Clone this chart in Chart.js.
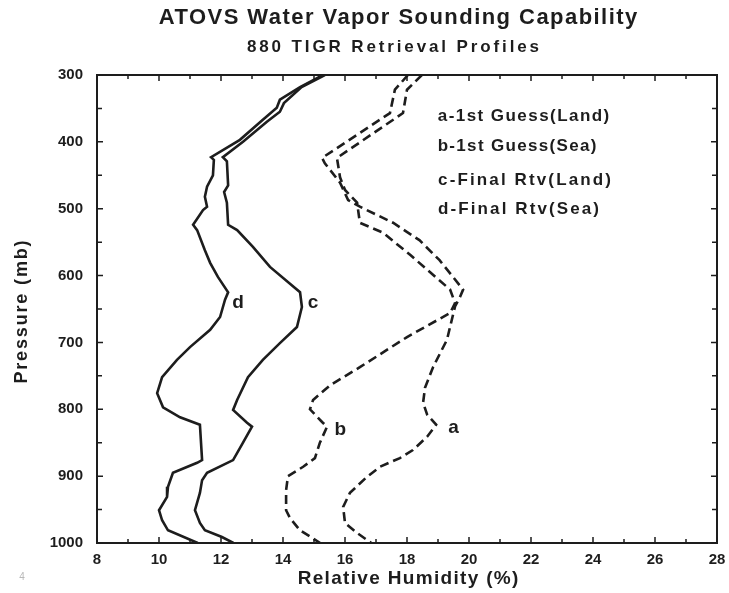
<!DOCTYPE html>
<html>
<head>
<meta charset="utf-8">
<script src="https://cdn.jsdelivr.net/npm/chart.js@4.4.1/dist/chart.umd.min.js"></script>
<style>
  html, body { margin: 0; padding: 0; background: #fff; }
  #wrap { width: 729px; height: 593px; }
</style>
</head>
<body>
<div id="wrap"><canvas id="rhChart" width="729" height="593"></canvas></div>
<script>
// Profiles: pressure (mb) and relative humidity (%)
const aPressure = [300, 322, 357, 424, 432, 461, 487, 497, 521, 547, 577, 621, 632, 646, 696, 737, 768, 790, 808, 823, 841, 861, 873, 886, 901, 925, 946, 970, 985, 1000];
const aHumidity = [18.03, 17.61, 17.45, 15.26, 15.35, 15.84, 16.1, 16.48, 17.55, 18.4, 19.05, 19.81, 19.71, 19.55, 19.29, 18.84, 18.58, 18.52, 18.65, 18.94, 18.65, 18.19, 17.77, 17.13, 16.71, 16.16, 15.94, 16.0, 16.39, 16.85];

const bPressure = [300, 322, 357, 424, 453, 472, 491, 521, 536, 569, 621, 641, 656, 692, 737, 764, 786, 800, 819, 826, 850, 873, 886, 900, 921, 951, 963, 981, 1000];
const bHumidity = [18.48, 18.0, 17.87, 15.74, 15.84, 16.0, 16.39, 16.48, 17.23, 18.1, 19.39, 19.55, 19.39, 18.0, 16.48, 15.52, 14.97, 14.87, 15.26, 15.42, 15.19, 15.03, 14.65, 14.16, 14.1, 14.1, 14.23, 14.55, 15.2];

const cPressure = [300, 318, 342, 355, 370, 400, 423, 429, 465, 475, 491, 524, 532, 557, 587, 625, 647, 677, 701, 726, 752, 786, 801, 820, 826, 850, 876, 895, 906, 925, 951, 970, 981, 991, 1000];
const cHumidity = [15.35, 14.6, 14.03, 13.9, 13.48, 12.71, 12.06, 12.19, 12.23, 12.1, 12.19, 12.23, 12.52, 13.03, 13.58, 14.55, 14.61, 14.45, 13.9, 13.35, 12.87, 12.52, 12.39, 12.84, 13.0, 12.71, 12.39, 11.55, 11.39, 11.32, 11.16, 11.32, 11.48, 12.03, 12.4];

const dPressure = [300, 318, 337, 349, 367, 397, 423, 427, 450, 467, 482, 497, 502, 524, 532, 562, 581, 602, 625, 636, 662, 681, 707, 726, 752, 776, 797, 812, 823, 876, 880, 895, 916, 931, 951, 966, 981, 1000];
const dHumidity = [15.29, 14.55, 13.9, 13.8, 13.35, 12.61, 11.68, 11.77, 11.74, 11.55, 11.48, 11.55, 11.42, 11.1, 11.23, 11.48, 11.65, 11.9, 12.23, 12.13, 11.97, 11.65, 11.0, 10.58, 10.1, 9.94, 10.13, 10.68, 11.32, 11.39, 11.23, 10.45, 10.29, 10.26, 10.0, 10.1, 10.29, 11.25];

const legendLines = ['a-1st Guess(Land)', 'b-1st Guess(Sea)', 'c-Final Rtv(Land)', 'd-Final Rtv(Sea)'];
// curve letters: [letter, humidity, pressure]
const curveTags = [['a', 19.5, 827], ['b', 15.85, 831], ['c', 14.97, 641], ['d', 12.55, 641]];

const ink = '#1d1d1d';
const fontFamily = '"Liberation Sans", Arial, sans-serif';

function toPoints(ps, hs) {
  return ps.map((p, i) => ({ x: hs[i], y: p }));
}

// draw text stretched to a given width with letter spacing
function spacedText(ctx, text, cx, cy, font, width) {
  ctx.font = font;
  ctx.letterSpacing = '0px';
  const w = ctx.measureText(text).width;
  const sp = (width - w) / text.length;
  ctx.letterSpacing = sp + 'px';
  ctx.textAlign = 'center';
  ctx.textBaseline = 'middle';
  ctx.fillText(text, cx + sp / 2, cy);
  ctx.letterSpacing = '0px';
}

const decorations = {
  id: 'decorations',
  afterDraw(chart) {
    const ctx = chart.ctx;
    const area = chart.chartArea;
    const xs = chart.scales.x;
    const ys = chart.scales.y;
    ctx.save();
    ctx.strokeStyle = ink;
    ctx.fillStyle = ink;

    // frame
    ctx.lineWidth = 2;
    ctx.strokeRect(area.left, area.top, area.right - area.left, area.bottom - area.top);

    // inward ticks
    ctx.lineWidth = 1.5;
    ctx.beginPath();
    xs.ticks.forEach(t => {
      const px = xs.getPixelForValue(t.value);
      const len = t.value % 2 === 0 ? 6 : 4;
      ctx.moveTo(px, area.bottom); ctx.lineTo(px, area.bottom - len);
      ctx.moveTo(px, area.top); ctx.lineTo(px, area.top + len);
    });
    ys.ticks.forEach(t => {
      const py = ys.getPixelForValue(t.value);
      const len = t.value % 100 === 0 ? 6 : 5;
      ctx.moveTo(area.left, py); ctx.lineTo(area.left + len, py);
      ctx.moveTo(area.right, py); ctx.lineTo(area.right - len, py);
    });
    ctx.stroke();

    // titles
    spacedText(ctx, 'ATOVS Water Vapor Sounding Capability', 398, 18, 'bold 22px ' + fontFamily, 480);
    spacedText(ctx, '880 TIGR Retrieval Profiles', 393, 47, 'bold 17px ' + fontFamily, 295);

    // axis titles
    spacedText(ctx, 'Relative Humidity (%)', 408, 579, 'bold 19px ' + fontFamily, 222);
    ctx.save();
    ctx.translate(22, 312);
    ctx.rotate(-Math.PI / 2);
    spacedText(ctx, 'Pressure (mb)', 0, 0, 'bold 18px ' + fontFamily, 145);
    ctx.restore();

    // legend text block
    const legendY = [116, 146, 180, 209];
    const legendW = [173, 160, 175, 163];
    legendLines.forEach((txt, i) => {
      spacedText(ctx, txt, 437 + legendW[i] / 2, legendY[i], 'bold 17px ' + fontFamily, legendW[i]);
    });

    // curve letters
    ctx.font = 'bold 19px ' + fontFamily;
    ctx.textAlign = 'center';
    ctx.textBaseline = 'middle';
    curveTags.forEach(([letter, h, p]) => {
      ctx.fillText(letter, xs.getPixelForValue(h), ys.getPixelForValue(p));
    });

    // scanner speck
    ctx.fillStyle = '#b8b8b8';
    ctx.font = '10px ' + fontFamily;
    ctx.fillText('4', 22, 577);
    ctx.restore();
  }
};

const lineStyle = (dashed) => ({
  showLine: true,
  borderColor: ink,
  borderWidth: 2.6,
  borderDash: dashed ? [9, 5] : [],
  pointRadius: 0,
  tension: 0,
  fill: false
});

new Chart(document.getElementById('rhChart'), {
  type: 'scatter',
  data: {
    datasets: [
      { label: 'a', data: toPoints(aPressure, aHumidity), ...lineStyle(true) },
      { label: 'b', data: toPoints(bPressure, bHumidity), ...lineStyle(true) },
      { label: 'c', data: toPoints(cPressure, cHumidity), ...lineStyle(false) },
      { label: 'd', data: toPoints(dPressure, dHumidity), ...lineStyle(false) }
    ]
  },
  options: {
    responsive: false,
    animation: false,
    layout: { padding: { top: 75, right: 12, left: 0, bottom: 0 } },
    plugins: {
      legend: { display: false },
      tooltip: { enabled: false }
    },
    scales: {
      x: {
        type: 'linear',
        min: 8,
        max: 28,
        afterFit: scale => {
          scale.height = 50;
          scale.paddingLeft = 0;
          scale.paddingRight = 0;
        },
        grid: { drawOnChartArea: false, drawTicks: false },
        border: { display: false },
        ticks: {
          stepSize: 1,
          autoSkip: false,
          maxRotation: 0,
          padding: 8,
          color: ink,
          font: { family: fontFamily, size: 15, weight: 'bold' },
          callback: v => (v % 2 === 0 ? v : '')
        }
      },
      y: {
        type: 'linear',
        reverse: true,
        min: 300,
        max: 1000,
        afterFit: scale => {
          scale.width = 97;
          scale.paddingTop = 0;
          scale.paddingBottom = 0;
        },
        grid: { drawOnChartArea: false, drawTicks: false },
        border: { display: false },
        ticks: {
          stepSize: 50,
          autoSkip: false,
          padding: 14,
          color: ink,
          font: { family: fontFamily, size: 15, weight: 'bold' },
          callback: v => (v % 100 === 0 ? v : '')
        }
      }
    }
  },
  plugins: [decorations]
});
</script>
</body>
</html>
